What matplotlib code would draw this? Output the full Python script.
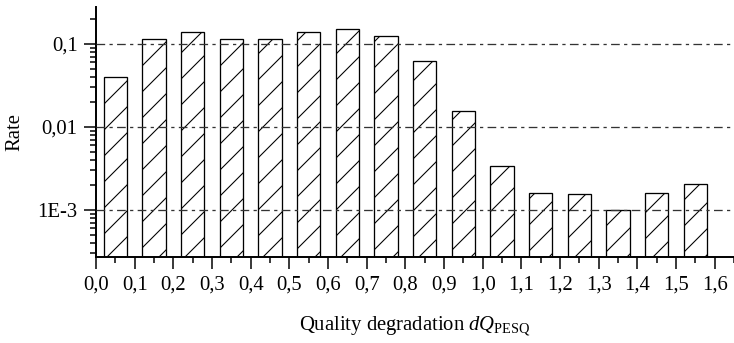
import numpy as np
import matplotlib
matplotlib.use("Agg")
import matplotlib.pyplot as plt
from matplotlib.ticker import FixedLocator, MultipleLocator, LogLocator, NullFormatter

# bins of quality degradation (left edge) and measured rate
bin_left = [0.0, 0.1, 0.2, 0.3, 0.4, 0.5, 0.6, 0.7, 0.8, 0.9, 1.0, 1.1, 1.2, 1.3, 1.4, 1.5]
rate = [0.0394, 0.115, 0.140, 0.115, 0.115, 0.140, 0.152, 0.126,
        0.0622, 0.0156, 0.00338, 0.0016, 0.00153, 0.00100, 0.0016, 0.00203]
x_ticks = [0.0, 0.1, 0.2, 0.3, 0.4, 0.5, 0.6, 0.7, 0.8, 0.9, 1.0, 1.1, 1.2, 1.3, 1.4, 1.5, 1.6]
y_ticks = [1e-3, 1e-2, 1e-1]
y_tick_labels = ["1E-3", "0,01", "0,1"]

plt.rcParams['font.family'] = ['Liberation Serif', 'DejaVu Serif']
plt.rcParams['mathtext.fontset'] = 'custom'
plt.rcParams['mathtext.rm'] = 'Liberation Serif'
plt.rcParams['mathtext.it'] = 'Liberation Serif:italic'
plt.rcParams['hatch.linewidth'] = 0.5
plt.rcParams['hatch.color'] = 'black'
plt.rcParams['lines.scale_dashes'] = False

DPI = 156
fig = plt.figure(figsize=(734 / DPI, 343 / DPI), dpi=DPI)
ax = fig.add_axes([0.1308, 0.2510, 0.8692, 0.729])

centers = np.array(bin_left) + 0.05
ax.bar(centers, rate, width=0.06, facecolor='none', edgecolor='black',
       linewidth=0.6, hatch='//', zorder=2)

ax.set_yscale('log')
ax.set_ylim(2.7e-4, 0.28)
ax.set_xlim(0, 1.65)

# dash-dot-dot grid at the decades, drawn over the bars
for y in y_ticks:
    ax.axhline(y, color='#333333', linewidth=0.6, linestyle=(0, (4, 2, 1.5, 2)), zorder=3)

ax.xaxis.set_major_locator(FixedLocator(x_ticks))
ax.xaxis.set_minor_locator(MultipleLocator(0.05))
ax.set_xticklabels([f"{v:.1f}".replace('.', ',') for v in x_ticks])

ax.yaxis.set_major_locator(FixedLocator(y_ticks))
ax.set_yticklabels(y_tick_labels)
ax.yaxis.set_minor_locator(LogLocator(base=10, subs=np.arange(2, 10)))
ax.yaxis.set_minor_formatter(NullFormatter())

ax.tick_params(which='major', direction='out', length=5.5, width=0.7, labelsize=9.5, pad=3)
ax.tick_params(which='minor', direction='out', length=2.8, width=0.7)

for side in ['top', 'right']:
    ax.spines[side].set_visible(False)
for side in ['left', 'bottom']:
    ax.spines[side].set_linewidth(0.9)

ax.set_ylabel('Rate', fontsize=9.5, labelpad=6)
ax.set_xlabel(r'Quality degradation $dQ_{\mathrm{PESQ}}$', fontsize=9.5, labelpad=9)

fig.savefig('out.png', dpi=DPI)
